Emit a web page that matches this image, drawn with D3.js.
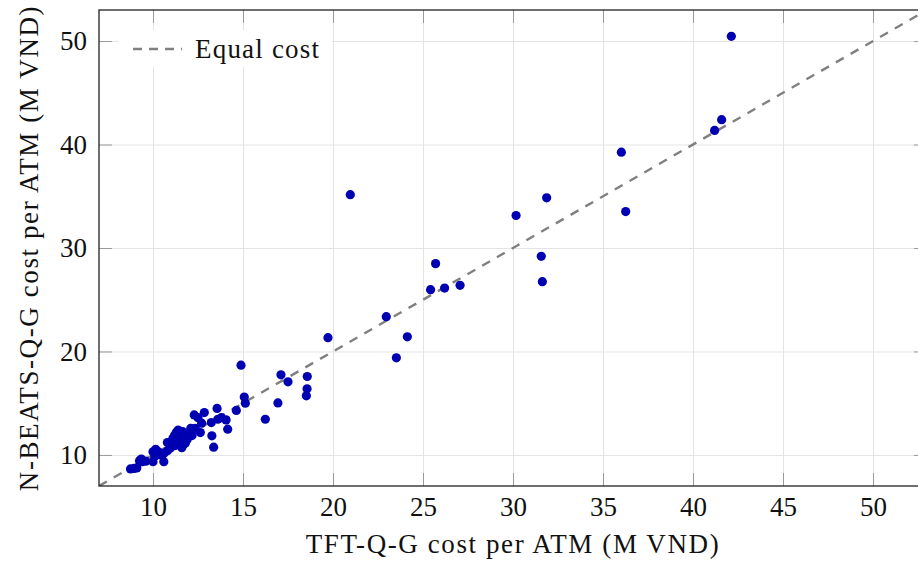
<!DOCTYPE html>
<html>
<head>
<meta charset="utf-8">
<script src="https://cdn.jsdelivr.net/npm/d3@7"></script>
<style>
body { margin: 0; background: #fff; overflow: hidden; }
svg { display: block; }
svg text { font-family: 'Liberation Serif', 'Times New Roman', 'DejaVu Serif', serif !important; }
</style>
</head>
<body>
<svg class="main" width="918" height="562"></svg>
<script>
// cost per ATM (M VND), one entry per ATM: TFT-Q-G on x, N-BEATS-Q-G on y
var tftCost = [
  8.75, 8.95, 9.1, 9.25, 9.4, 9.35, 9.6, 10.0, 10.0, 10.15, 10.3, 10.1, 10.4,
  10.6, 10.6, 10.8, 10.95, 11.05, 11.1, 11.2, 11.3, 11.4, 11.5, 11.35, 11.6,
  11.7, 11.8, 11.65, 11.9, 11.2, 10.8, 11.45, 11.9,
  12.1, 12.35, 12.17, 12.63, 12.29, 12.5, 12.85, 12.7, 13.24, 13.56, 13.6,
  13.8, 14.06, 14.15, 13.27, 13.37,
  14.63, 14.89, 15.07, 15.13, 16.24, 16.94, 17.11, 17.5, 18.57, 18.56, 18.52,
  19.72, 22.96, 24.13, 23.52, 20.96,
  25.42, 25.7, 26.2, 27.06, 30.17, 31.87, 31.57, 31.63, 36.02, 36.26,
  41.2, 41.59, 42.13
]
var nbeatsCost = [
  8.65, 8.7, 8.75, 9.45, 9.35, 9.6, 9.4, 9.35, 10.3, 10.55, 10.3, 9.9, 10.0,
  9.35, 10.15, 11.2, 10.65, 11.1, 11.6, 11.9, 12.2, 12.4, 12.0, 11.3, 10.7,
  11.0, 11.15, 12.25, 11.5, 10.9, 10.4, 11.6, 12.0,
  12.58, 12.58, 11.87, 12.16, 13.87, 13.6, 14.1, 13.07, 13.13, 14.5, 13.45,
  13.6, 13.39, 12.49, 11.85, 10.75,
  14.3, 18.68, 15.6, 15.0, 13.45, 15.03, 17.74, 17.07, 17.58, 16.39, 15.71,
  21.33, 23.36, 21.42, 19.39, 35.15,
  25.97, 28.49, 26.13, 26.39, 33.14, 34.85, 29.2, 26.75, 39.26, 33.52,
  41.36, 42.4, 50.46
]
var xTicks = [10, 15, 20, 25, 30, 35, 40, 45, 50]
var yTicks = [10, 20, 30, 40, 50]
var axisRange = [7, 53]
var equalLine = [7, 53]

var xLabel = 'TFT-Q-G cost per ATM (M VND)'
var yLabel = 'N-BEATS-Q-G cost per ATM (M VND)'
var legendLabel = 'Equal cost'

var data = tftCost.map(function(d, i) { return {x: d, y: nbeatsCost[i]} })

// plot box (right side runs past the window edge, like the reference)
const margin = {top: 10, left: 99}
const width = 828
const height = 476
const svg = d3.select('svg.main')

var body = svg.append('g')
  .attr('transform', `translate(${margin.left}, ${margin.top})`)

const xScale = d3.scaleLinear().domain(axisRange).range([0, width])
const yScale = d3.scaleLinear().domain(axisRange).range([height, 0])

svg.append('defs').append('clipPath').attr('id', 'plotclip')
  .append('rect').attr('width', width).attr('height', height)

// grid
body.append('g')
  .attr('transform', `translate(0, ${height})`)
  .call(d3.axisBottom(xScale).tickValues(xTicks).tickSize(-height).tickFormat(''))
  .call(g => g.select('.domain').remove())
  .call(g => g.selectAll('line').attr('stroke', '#e4e4e4'))
body.append('g')
  .call(d3.axisLeft(yScale).tickValues(yTicks).tickSize(-width).tickFormat(''))
  .call(g => g.select('.domain').remove())
  .call(g => g.selectAll('line').attr('stroke', '#e4e4e4'))

// equal cost line
var plot = body.append('g').attr('clip-path', 'url(#plotclip)')
plot.append('line')
  .attr('x1', xScale(equalLine[0])).attr('y1', yScale(equalLine[0]))
  .attr('x2', xScale(equalLine[1])).attr('y2', yScale(equalLine[1]))
  .attr('stroke', '#808080')
  .attr('stroke-width', 2.4)
  .attr('stroke-dasharray', '9,8')

// points
plot.selectAll('circle')
  .data(data)
  .join('circle')
  .attr('cx', d => xScale(d.x))
  .attr('cy', d => yScale(d.y))
  .attr('r', 4.6)
  .attr('fill', '#0000b3')

// ticks on all four sides, pointing inward
function styleTicks(g) {
  g.attr('font-family', null)
  g.select('.domain').remove()
  g.selectAll('line').attr('stroke', '#9a9a9a')
  g.selectAll('text')
    .attr('fill', '#111')
    .attr('font-size', 27)
}
body.append('g')
  .attr('transform', `translate(0, ${height})`)
  .call(d3.axisBottom(xScale).tickValues(xTicks).tickSize(-13).tickPadding(11))
  .call(styleTicks)
body.append('g')
  .call(d3.axisTop(xScale).tickValues(xTicks).tickSize(-13).tickFormat(''))
  .call(styleTicks)
body.append('g')
  .call(d3.axisLeft(yScale).tickValues(yTicks).tickSize(-13).tickPadding(12))
  .call(styleTicks)
body.append('g')
  .attr('transform', `translate(${width}, 0)`)
  .call(d3.axisRight(yScale).tickValues(yTicks).tickSize(-13).tickFormat(''))
  .call(styleTicks)

// frame
body.append('rect')
  .attr('width', width).attr('height', height)
  .attr('fill', 'none')
  .attr('stroke', '#222')
  .attr('stroke-width', 1.3)

// legend
var legend = body.append('g').attr('transform', 'translate(19, 20)')
legend.append('rect')
  .attr('width', 214).attr('height', 37)
  .attr('fill', '#fff')
legend.append('line')
  .attr('x1', 15).attr('x2', 64)
  .attr('y1', 19).attr('y2', 19)
  .attr('stroke', '#808080')
  .attr('stroke-width', 2.4)
  .attr('stroke-dasharray', '9,7')
legend.append('text')
  .attr('x', 77).attr('y', 28)
  .attr('font-size', 27)
  .attr('letter-spacing', 1.2)
  .attr('fill', '#111')
  .text(legendLabel)

// axis titles
svg.append('text')
  .attr('x', margin.left + width / 2)
  .attr('y', 553)
  .attr('text-anchor', 'middle')
  .attr('font-size', 27)
  .attr('letter-spacing', 1.6)
  .attr('fill', '#111')
  .text(xLabel)

svg.append('text')
  .attr('transform', `translate(38, ${margin.top + height / 2}) rotate(-90)`)
  .attr('text-anchor', 'middle')
  .attr('font-size', 27)
  .attr('letter-spacing', 1.6)
  .attr('fill', '#111')
  .text(yLabel)
</script>
</body>
</html>
